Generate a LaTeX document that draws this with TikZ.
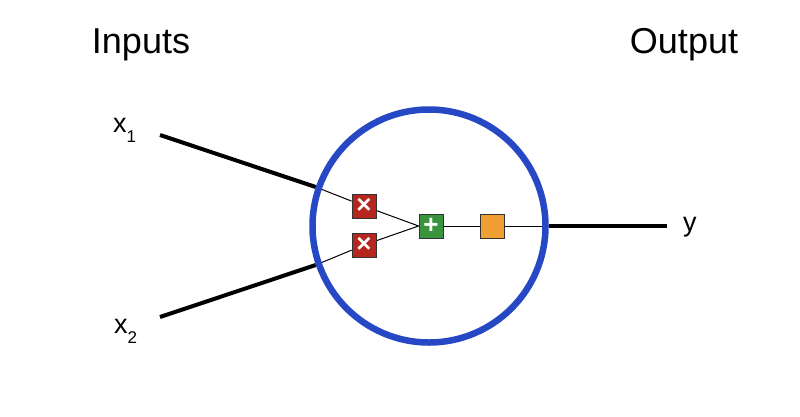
\documentclass[tikz,border=0pt]{standalone}
\usepackage{fontspec}
\setmainfont{Liberation Sans}
\usetikzlibrary{backgrounds}

\definecolor{ringblue}{RGB}{38,72,196}
\definecolor{mulred}{RGB}{181,38,30}
\definecolor{addgreen}{RGB}{58,148,62}
\definecolor{actorange}{RGB}{240,160,50}

\tikzset{
  opbox/.style={draw=black!80, line width=0.8pt, minimum size=24pt, inner sep=0pt,
    text=white, font=\fontsize{26}{26}\selectfont\bfseries},
  heavy/.style={line width=4pt},
  wire/.style={line width=1pt},
  title/.style={font=\fontsize{36}{36}\selectfont, anchor=base},
  var/.style={font=\fontsize{27}{27}\selectfont, anchor=base west, inner sep=0pt},
}
\newcommand{\subidx}[1]{\raisebox{-10pt}{\fontsize{17}{17}\selectfont #1}}

\begin{document}
\begin{tikzpicture}[x=1pt,y=-1pt]
    \useasboundingbox (0,0) rectangle (800,416);

    % titles
    \node[title] (inputs) at (141,53) {Inputs};
    \node[title] (output) at (684,53) {Output};

    % variables
    \node[var] (x1) at (113,132) {x\subidx{1}};
    \node[var] (x2) at (114,333) {x\subidx{2}};
    \node[var] (y) at (683,231) {y};
    \coordinate (x1end) at (160,135);
    \coordinate (x2end) at (160,317);
    \coordinate (yend) at (667,226);

    % neuron
    \node[circle, draw=ringblue, line width=6.5pt, minimum size=233pt, inner sep=0pt] (neuron) at (429,226) {};
    \node[opbox, fill=mulred] (mul1) at (364,206) {×};
    \node[opbox, fill=mulred] (mul2) at (364,245) {×};
    \node[opbox, fill=addgreen] (add) at (431,226) {+};
    \node[opbox, fill=actorange] (act) at (492,226) {};

    \begin{scope}[on background layer]
        \draw[heavy] (x1end) -- (neuron.161);
        \draw[heavy] (x2end) -- (neuron.199);
        \draw[heavy] (neuron.east) -- (yend);
        \draw[wire] (neuron.161) -- (mul1);
        \draw[wire] (neuron.199) -- (mul2);
        \draw[wire] (mul1) -- (add.west);
        \draw[wire] (mul2) -- (add.west);
        \draw[wire] (add) -- (act);
        \draw[wire] (act) -- (neuron.east);
    \end{scope}
\end{tikzpicture}
\end{document}
